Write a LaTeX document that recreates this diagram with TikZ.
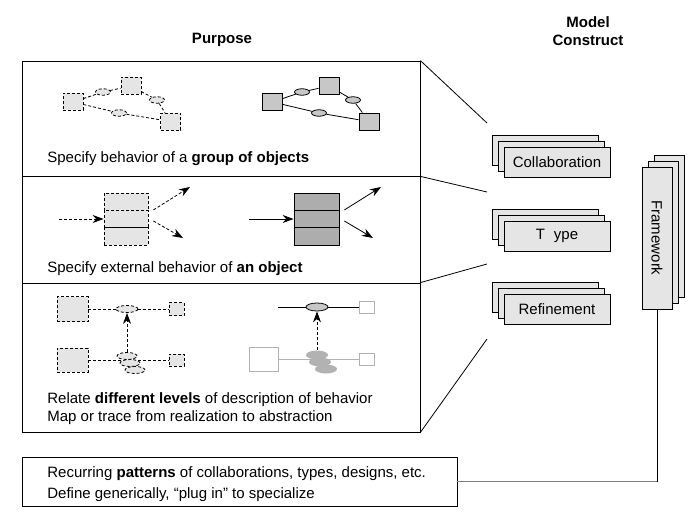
\documentclass[tikz,border=0pt]{standalone}
\usepackage{fontspec}
\setmainfont{Liberation Sans}
\usetikzlibrary{shapes.geometric,arrows.meta,shadows}

\definecolor{lightfill}{gray}{0.9}
\definecolor{objfill}{gray}{0.78}
\definecolor{stackfill}{gray}{0.68}
\definecolor{ghost}{gray}{0.7}

\tikzset{
  dsh/.style={dash pattern=on 3pt off 2pt},
  panel/.style={draw, inner sep=0pt, minimum width=398pt},
  dobj/.style={draw, dsh, fill=lightfill, inner sep=0pt, minimum width=20pt, minimum height=17pt},
  sobj/.style={draw, fill=objfill, inner sep=0pt, minimum width=20pt, minimum height=17pt},
  gobj/.style={draw=ghost, fill=white, inner sep=0pt},
  dmsg/.style={ellipse, draw, dsh, fill=lightfill, inner sep=0pt, minimum width=15pt, minimum height=6.5pt},
  smsg/.style={ellipse, draw, fill=objfill, inner sep=0pt, minimum width=15pt, minimum height=6.5pt},
  blob/.style={ellipse, fill=ghost, inner sep=0pt, minimum width=22pt, minimum height=9pt},
  drow/.style={draw, dsh, fill=lightfill, inner sep=0pt, minimum width=44pt, minimum height=17.33pt},
  srow/.style={draw, fill=stackfill, inner sep=0pt, minimum width=45pt, minimum height=17.33pt},
  cons/.style={draw, fill=lightfill, minimum width=106pt, minimum height=30pt, inner sep=0pt,
    double copy shadow={shadow xshift=-6pt, shadow yshift=6pt}},
  txt/.style={anchor=base west, inner sep=0pt},
  head/.style={font=\fontsize{15}{18}\selectfont\bfseries, align=center}
}

\begin{document}
\begin{tikzpicture}[x=1pt, y=-1pt, line width=0.8pt, font=\fontsize{15}{18}\selectfont,
  >={Stealth[length=11pt, width=8pt]}]
  \useasboundingbox (0,0) rectangle (696,516);
%
  \node[head] (hp) at (222,40) {Purpose};
  \node[head] (hm) at (588,31) {Model\\Construct};
%
  \node[panel, minimum height=115pt] (pa) at (221,118.5) {};
  \node[panel, minimum height=107pt] (pb) at (221,229.5) {};
  \node[panel, minimum height=149pt] (pc) at (221,357.5) {};
%
  % group of objects, dashed
  \node[dobj] (gl) at (73,102) {};
  \node[dobj] (gt) at (131,86) {};
  \node[dobj] (gr) at (170.5,121.5) {};
  \node[dmsg] (glt) at (103,92) {};
  \node[dmsg] (gtr) at (157,100) {};
  \node[dmsg] (glr) at (119,113) {};
  \draw[dsh] (gl) -- (glt) -- (gt);
  \draw[dsh] (gt) -- (gtr) -- (gr);
  \draw[dsh] (gl) -- (glr) -- (gr);
  % group of objects, solid
  \node[sobj] (hl) at (272.5,102) {};
  \node[sobj] (ht) at (329,86) {};
  \node[sobj] (hr) at (369,121.5) {};
  \node[smsg] (hlt) at (302,92) {};
  \node[smsg] (htr) at (353,100) {};
  \node[smsg] (hlr) at (319,113) {};
  \draw (hl) -- (hlt) -- (ht);
  \draw (ht) -- (htr) -- (hr);
  \draw (hl) -- (hlr) -- (hr);
  \node[txt] (ta) at (47,163) {Specify behavior of a \textbf{group of objects}};
%
  % one object, dashed
  \node[drow] (da1) at (126,201.67) {};
  \node[drow] (da2) at (126,219) {};
  \node[drow] (da3) at (126,236.33) {};
  \coordinate (din) at (59,219);
  \coordinate (dup) at (190,187);
  \coordinate (ddn) at (183,238);
  \draw[dsh,->] (din) -- (da2);
  \draw[dsh,->] ([xshift=5pt]da2.north east) -- (dup);
  \draw[dsh,->] ([xshift=5pt,yshift=-2pt]da2.east) -- (ddn);
  % one object, solid
  \node[srow] (sa1) at (316.5,201.67) {};
  \node[srow] (sa2) at (316.5,219) {};
  \node[srow] (sa3) at (316.5,236.33) {};
  \coordinate (sin) at (249,219);
  \coordinate (sup) at (381,187);
  \coordinate (sdn) at (373,238);
  \draw[->] (sin) -- (sa2);
  \draw[->] ([xshift=5pt]sa2.north east) -- (sup);
  \draw[->] ([xshift=5pt,yshift=-2pt]sa2.east) -- (sdn);
  \node[txt] (tb) at (47,272) {Specify external behavior of \textbf{an object}};
%
  % levels, dashed
  \node[dobj, minimum width=31pt, minimum height=25pt] (ltb) at (72.5,309) {};
  \node[dobj, minimum width=15pt, minimum height=13pt] (lts) at (176.5,309) {};
  \node[dmsg, minimum width=22pt, minimum height=7pt] (ltm) at (127,309) {};
  \draw[dsh] (ltb) -- (ltm) -- (lts);
  \node[dobj, minimum width=31pt, minimum height=24pt] (lbb) at (72.5,360) {};
  \node[dobj, minimum width=15pt, minimum height=12pt] (lbs) at (176.5,360) {};
  \draw[dsh] (lbb) -- (lbs);
  \node[dmsg, minimum width=20pt, minimum height=7pt] (lbm3) at (135,370) {};
  \node[dmsg, minimum width=20pt, minimum height=7pt] (lbm2) at (130,363) {};
  \node[dmsg, minimum width=20pt, minimum height=7pt] (lbm1) at (127,356) {};
  \draw[dsh,->] (lbm1.north) -- (ltm.south);
  % levels, solid and faint
  \coordinate (rin) at (278,307);
  \node[smsg, minimum width=22pt, minimum height=8pt] (rtm) at (317,307) {};
  \node[gobj, minimum width=15pt, minimum height=12pt] (rts) at (366.5,307) {};
  \draw (rin) -- (rtm) -- (rts);
  \node[gobj, minimum width=29pt, minimum height=24pt] (rbb) at (263.5,359) {};
  \node[gobj, minimum width=15pt, minimum height=12pt] (rbs) at (366.5,359) {};
  \draw[ghost] (rbb) -- (rbs);
  \node[blob] (rbm3) at (326,369) {};
  \node[blob] (rbm2) at (320,362) {};
  \node[blob] (rbm1) at (317,355) {};
  \draw[dsh,->] (rbm1.north) -- (rtm.south);
  \node[txt] (tc1) at (47,403) {Relate \textbf{different levels} of description of behavior};
  \node[txt] (tc2) at (47,421) {Map or trace from realization to abstraction};
%
  % model constructs
  \node[cons] (cc) at (557,162) {Collaboration};
  \node[cons] (ct) at (557,236) {T\hspace{0.6em}ype};
  \node[cons] (cr) at (557,309) {Refinement};
  \node[draw, fill=lightfill, minimum width=30pt, minimum height=142pt, inner sep=0pt,
    double copy shadow={shadow xshift=6pt, shadow yshift=6pt}] (fw) at (657,238)
    {\rotatebox[origin=c]{-90}{Framework}};
%
  \coordinate (ka) at (487,123);
  \coordinate (kb) at (487,192);
  \coordinate (kc) at (487,264);
  \coordinate (kd) at (487,339);
  \draw (pa.north east) -- (ka);
  \draw (pa.south east) -- (kb);
  \draw (pc.north east) -- (kc);
  \draw (pc.south east) -- (kd);
%
  \node[draw, minimum width=435pt, minimum height=49pt] (pat) at (239.5,481.5) {};
  \node[txt] (pt1) at (47,477) {Recurring \textbf{patterns} of collaborations, types, designs, etc.};
  \node[txt] (pt2) at (47,498) {Define generically, ``plug in'' to specialize};
  \draw (fw.south) -- (fw.south |- pat.east);
  \draw[gray] (fw.south |- pat.east) -- (pat.east);
\end{tikzpicture}
\end{document}
